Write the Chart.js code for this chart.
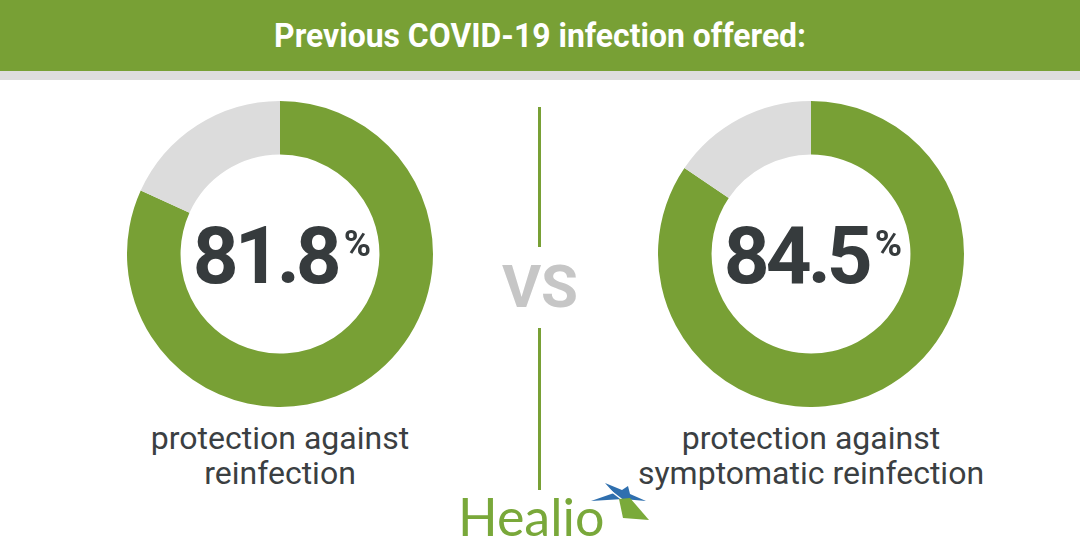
<!DOCTYPE html>
<html>
<head>
<meta charset="utf-8">
<script src="https://cdn.jsdelivr.net/npm/chart.js@4"></script>
<style>
  html, body { margin: 0; padding: 0; }
  body { width: 1080px; height: 559px; position: relative; overflow: hidden; background: #fff; font-family: Roboto, "Noto Sans", sans-serif; }
  .header { position: absolute; left: 0; top: 0; width: 1080px; height: 71px; background: #78a035; }
  .band { position: absolute; left: 0; top: 71px; width: 1080px; height: 9px; background: #dedddd; }
  .title { position: absolute; left: 0; top: 16px; width: 1080px; text-align: center; color: #fff; font-weight: 700; font-size: 33px; line-height: 40px; white-space: nowrap; }
  .title span { display: inline-block; transform-origin: center; }
  .donut { position: absolute; }
  .pct { position: absolute; width: 300px; text-align: center; color: #363b3d; font-weight: 700; font-size: 80px; line-height: 80px; letter-spacing: -4px; white-space: nowrap; }
  .pct sup { font-size: 37px; vertical-align: 0; position: relative; top: -27px; letter-spacing: 0; margin-left: 6px; }
  .label { position: absolute; width: 400px; text-align: center; color: #3b3f42; font-size: 32px; line-height: 35px; }
  .vline { position: absolute; left: 538px; width: 3px; background: #78a035; }
  .vs { position: absolute; left: 490px; top: 257px; width: 100px; text-align: center; color: #c6c6c6; font-weight: 700; font-size: 60px; line-height: 60px; }
  .logo { position: absolute; left: 458px; top: 486px; color: #79a83a; font-family: Lato, sans-serif; font-size: 52px; line-height: 60px; }
  svg.star { position: absolute; left: 585px; top: 478px; }
</style>
</head>
<body>
<div class="header"></div>
<div class="band"></div>
<div class="title"><span id="titleText">Previous COVID-19 infection offered:</span></div>

<canvas id="leftChart" class="donut" width="306" height="306" style="left:127px;top:101px"></canvas>
<canvas id="rightChart" class="donut" width="306" height="306" style="left:658px;top:101px"></canvas>

<div class="pct" id="leftPct" style="left:132px;top:216px"></div>
<div class="pct" id="rightPct" style="left:663px;top:216px"></div>

<div class="label" id="leftLabel" style="left:80px;top:421px"></div>
<div class="label" id="rightLabel" style="left:611px;top:421px"></div>

<div class="vline" style="top:107px;height:140px"></div>
<div class="vline" style="top:328px;height:162px"></div>
<div class="vs">VS</div>

<div class="logo">Healio</div>
<svg class="star" width="70" height="50" viewBox="0 0 70 50">
  <polygon points="6,23 29,15 20,5 37,12 43,8 45,16 61,23 38,21" fill="#2f6fae"/>
  <line x1="18" y1="7" x2="48" y2="30" stroke="#fff" stroke-width="1.5"/>
  <polygon points="34,21 45,20 64,42 38,40" fill="#7aaa3a"/>
</svg>

<script>
  // ---- DATA ----
  const categories = ['Protected', 'Not protected'];
  const leftValues = [81.8, 18.2];
  const rightValues = [84.5, 15.5];
  const leftLabelLines = ['protection against', 'reinfection'];
  const rightLabelLines = ['protection against', 'symptomatic reinfection'];

  const GREEN = '#78a035';
  const GRAY = '#dcdcdc';

  function makeDonut(id, values) {
    const ctx = document.getElementById(id).getContext('2d');
    return new Chart(ctx, {
      type: 'doughnut',
      data: {
        labels: categories,
        datasets: [{
          data: values,
          backgroundColor: [GREEN, GRAY],
          borderWidth: 0,
          hoverOffset: 0
        }]
      },
      options: {
        responsive: false,
        animation: false,
        cutout: '65%',
        layout: { padding: 0 },
        plugins: { legend: { display: false }, tooltip: { enabled: false } }
      }
    });
  }

  makeDonut('leftChart', leftValues);
  makeDonut('rightChart', rightValues);

  document.getElementById('leftPct').innerHTML = leftValues[0] + '<sup>%</sup>';
  document.getElementById('rightPct').innerHTML = rightValues[0] + '<sup>%</sup>';
  document.getElementById('leftLabel').innerHTML = leftLabelLines.join('<br>');
  document.getElementById('rightLabel').innerHTML = rightLabelLines.join('<br>');

  // squeeze the title to the condensed width of the original
  const t = document.getElementById('titleText');
  const w = t.getBoundingClientRect().width;
  t.style.transform = 'scaleX(' + (532 / w) + ')';
</script>
</body>
</html>
